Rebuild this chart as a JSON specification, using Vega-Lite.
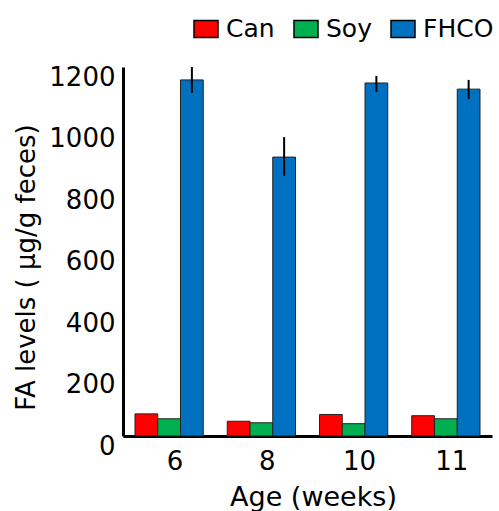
{
  "$schema": "https://vega.github.io/schema/vega-lite/v6.json",
  "width": 369,
  "height": 369,
  "autosize": {"type": "none"},
  "padding": {"left": 123, "top": 67, "right": 7, "bottom": 75},
  "config": {
    "font": "DejaVu Sans",
    "view": {"stroke": null},
    "axis": {
      "grid": false,
      "ticks": false,
      "domainColor": "black",
      "domainWidth": 3,
      "labelFont": "DejaVu Sans",
      "labelFontSize": 26,
      "labelColor": "black",
      "titleFont": "DejaVu Sans",
      "titleFontSize": 26,
      "titleFontWeight": "normal",
      "titleColor": "black"
    }
  },
  "data": {
    "values": [
      {"age": "6", "diet": "Can", "value": 72},
      {"age": "6", "diet": "Soy", "value": 56},
      {"age": "6", "diet": "FHCO", "value": 1158, "lo": 1116, "hi": 1200},
      {"age": "8", "diet": "Can", "value": 48},
      {"age": "8", "diet": "Soy", "value": 43},
      {"age": "8", "diet": "FHCO", "value": 907, "lo": 846, "hi": 972},
      {"age": "10", "diet": "Can", "value": 70},
      {"age": "10", "diet": "Soy", "value": 40},
      {"age": "10", "diet": "FHCO", "value": 1148, "lo": 1119, "hi": 1171},
      {"age": "11", "diet": "Can", "value": 66},
      {"age": "11", "diet": "Soy", "value": 56},
      {"age": "11", "diet": "FHCO", "value": 1128, "lo": 1096, "hi": 1158}
    ]
  },
  "layer": [
    {
      "mark": {"type": "bar", "stroke": "#222222", "strokeWidth": 1},
      "encoding": {
        "x": {
          "field": "age",
          "type": "ordinal",
          "sort": ["6", "8", "10", "11"],
          "scale": {"paddingInner": 0.26, "paddingOuter": 0.13},
          "axis": {"labelAngle": 0, "title": "Age (weeks)", "titleFontSize": 27, "titleX": 190, "labelPadding": 12, "labelOffset": 6, "titlePadding": 10}
        },
        "xOffset": {
          "field": "diet",
          "type": "nominal",
          "sort": ["Can", "Soy", "FHCO"],
          "scale": {"paddingInner": 0, "paddingOuter": 0}
        },
        "y": {
          "field": "value",
          "type": "quantitative",
          "scale": {"domain": [0, 1200]},
          "axis": {
            "values": [0, 200, 400, 600, 800, 1000, 1200],
            "format": "d",
            "title": "FA levels ( μg/g feces)",
            "labelOffset": 10,
            "labelPadding": 8,
            "titlePadding": 9,
            "titleY": 200
          }
        },
        "color": {
          "field": "diet",
          "type": "nominal",
          "scale": {"domain": ["Can", "Soy", "FHCO"], "range": ["#FF0000", "#00B050", "#0070C0"]},
          "legend": {
            "orient": "none",
            "legendX": 70,
            "legendY": -51,
            "direction": "horizontal",
            "title": null,
            "labelFontSize": 25,
            "labelFont": "DejaVu Sans",
            "labelColor": "black",
            "labelOffset": 7,
            "columnPadding": 16,
            "symbolType": "M-1,-0.7H1V0.7H-1Z",
            "symbolSize": 576,
            "symbolStrokeColor": "black",
            "symbolStrokeWidth": 1.5,
            "symbolOpacity": 1
          }
        }
      }
    },
    {
      "transform": [{"filter": "datum.hi != null"}],
      "mark": {"type": "rule", "color": "black", "strokeWidth": 2},
      "encoding": {
        "x": {"field": "age", "type": "ordinal", "sort": ["6", "8", "10", "11"]},
        "xOffset": {"field": "diet", "type": "nominal", "sort": ["Can", "Soy", "FHCO"]},
        "y": {"field": "lo", "type": "quantitative"},
        "y2": {"field": "hi"}
      }
    }
  ]
}
